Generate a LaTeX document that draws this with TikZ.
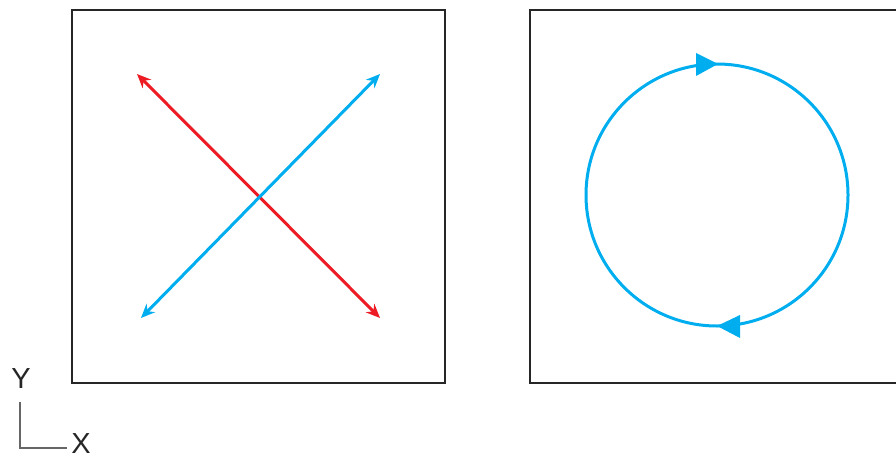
\documentclass[tikz,border=0pt]{standalone}
\usepackage{fontspec}
\setmainfont{Liberation Sans}
\usetikzlibrary{arrows.meta}
\definecolor{cyanb}{RGB}{0,174,239}
\definecolor{redb}{RGB}{237,28,36}
\tikzset{
  frame/.style={draw=black!85, line width=2.8pt},
  vec/.style={line width=3pt, {Stealth[length=14pt,width=12pt]}-{Stealth[length=14pt,width=12pt]}},
  lbl/.style={font=\fontsize{29}{29}\selectfont, text=black!85, inner sep=0pt},
  ax/.style={draw=black!60, line width=1.8pt}
}
\begin{document}
\begin{tikzpicture}[x=1pt,y=-1pt]
\useasboundingbox (0,0) rectangle (896,460);
\draw[frame] (72,10) rectangle (445,383);
\draw[frame] (530,10) rectangle (910,383);
% vectors
\coordinate (r1) at (137,74);
\coordinate (r2) at (380,318);
\coordinate (b1) at (141,318);
\coordinate (b2) at (380,74);
\draw[vec, redb] (r1) -- (r2);
\draw[vec, cyanb] (b1) -- (b2);
% rotation circle
\coordinate (c) at (717,195);
\draw[cyanb, line width=3pt] (c) circle[radius=131];
\fill[cyanb] (718,64) -- (696,53) -- (696,76) -- cycle;
\fill[cyanb] (717,326) -- (740,315) -- (740,338) -- cycle;
% axes
\node[lbl] (ylab) at (21,379) {Y};
\node[lbl] (xlab) at (81,444) {X};
\coordinate (o) at (20,448);
\draw[ax] (20,402) -- (o) -- (67,448);
\end{tikzpicture}
\end{document}
